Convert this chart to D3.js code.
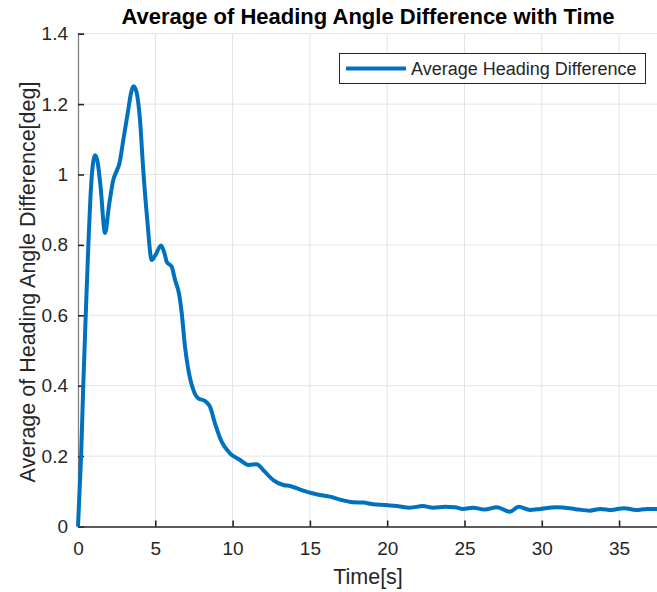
<!DOCTYPE html>
<html>
<head>
<meta charset="utf-8">
<script src="https://cdn.jsdelivr.net/npm/d3@7"></script>
<style>
  html, body { margin: 0; padding: 0; background: #fff; }
  svg { display: block; font-family: "Liberation Sans", Arial, Helvetica, sans-serif; }
</style>
</head>
<body>
<svg id="chart" width="657" height="592"></svg>
<script>
// Time samples [s]
const timeS = [0, 0.1, 0.2, 0.34, 0.5, 0.67, 0.85, 1.0, 1.1, 1.25, 1.45, 1.75, 2.0, 2.28, 2.5, 2.67,
  2.93, 3.2, 3.45, 3.58, 3.75, 4.01, 4.22, 4.48, 4.77, 5.0, 5.37, 5.6, 5.74, 6.06, 6.28, 6.53, 6.71,
  6.92, 7.14, 7.46, 7.78, 8.21, 8.54, 8.86, 9.29, 9.83, 10.48, 11.02, 11.56, 11.99, 12.63, 13.28,
  13.71, 14.57, 15.65, 16.3, 16.9, 17.8, 18.45, 19.1, 19.86, 20.6, 21.47, 22.3, 22.98, 23.74, 24.4,
  24.9, 25.57, 26.3, 27.1, 27.94, 28.5, 29.24, 29.9, 30.97, 31.8, 32.4, 33.1, 33.8, 34.5, 35.3,
  36.1, 36.8, 37.4, 38.0];
// Average heading angle difference [deg]
const headingDiff = [0, 0.1, 0.2, 0.4, 0.6, 0.8, 0.97, 1.04, 1.055, 1.04, 0.97, 0.834, 0.91, 0.984,
  1.01, 1.03, 1.098, 1.17, 1.235, 1.251, 1.24, 1.155, 1.013, 0.871, 0.757, 0.77, 0.798, 0.775, 0.752,
  0.738, 0.70, 0.662, 0.606, 0.511, 0.445, 0.388, 0.364, 0.357, 0.340, 0.293, 0.241, 0.208, 0.189,
  0.175, 0.177, 0.16, 0.132, 0.118, 0.115, 0.102, 0.0895, 0.085, 0.077, 0.069, 0.068, 0.063, 0.061,
  0.058, 0.0535, 0.058, 0.0535, 0.056, 0.0545, 0.05, 0.0535, 0.048, 0.055, 0.042, 0.056, 0.047,
  0.05, 0.0545, 0.052, 0.048, 0.045, 0.05, 0.047, 0.052, 0.047, 0.05, 0.0497, 0.048];

const xTicks = [0, 5, 10, 15, 20, 25, 30, 35];
const yTicks = [0, 0.2, 0.4, 0.6, 0.8, 1, 1.2, 1.4];

const titleText = "Average of Heading Angle Difference with Time";
const xLabel = "Time[s]";
const yLabel = "Average of Heading Angle Difference[deg]";
const seriesName = "Average Heading Difference";

const svg = d3.select("#chart");
const xMax = 37.5;
const plotLeft = 78, plotBottom = 526.5, plotTop = 33.7, plotRight = 78 + 15.46 * xMax;

const x = d3.scaleLinear().domain([0, xMax]).range([plotLeft, plotRight]);
const y = d3.scaleLinear().domain([0, 1.4]).range([plotBottom, plotTop]);

const ink = "#262626";
const fontFam = "Liberation Sans, Arial, sans-serif";

// grid
const grid = svg.append("g");
grid.selectAll(".gx").data(xTicks.filter(d => d > 0)).join("line")
  .attr("x1", d => x(d)).attr("x2", d => x(d))
  .attr("y1", y(0)).attr("y2", y(1.4))
  .attr("stroke", "#e3e3e3").attr("stroke-width", 1);
grid.selectAll(".gy").data(yTicks.filter(d => d > 0)).join("line")
  .attr("x1", x(0)).attr("x2", x(xMax))
  .attr("y1", d => y(d)).attr("y2", d => y(d))
  .attr("stroke", "#e3e3e3").attr("stroke-width", 1);

// axes
const xAxis = d3.axisBottom(x).tickValues(xTicks).tickSize(-6).tickPadding(15)
  .tickFormat(d3.format("d"));
const gx = svg.append("g").attr("transform", `translate(0,${plotBottom})`).call(xAxis);
gx.select(".domain").attr("stroke", ink).attr("stroke-width", 1.3);
gx.selectAll(".tick line").attr("stroke", ink).attr("stroke-width", 1.6);
gx.selectAll(".tick text").attr("fill", ink).attr("font-size", 19).attr("font-family", fontFam);

const yAxis = d3.axisLeft(y).tickValues(yTicks).tickSize(-6).tickPadding(10)
  .tickFormat(d => d3.format("~g")(d));
const gy = svg.append("g").attr("transform", `translate(${plotLeft},0)`).call(yAxis);
gy.select(".domain").attr("stroke", "#808080").attr("stroke-width", 1.3);
gy.selectAll(".tick line").attr("stroke", ink).attr("stroke-width", 1.6);
gy.selectAll(".tick text").attr("fill", ink).attr("font-size", 19).attr("font-family", fontFam);

// clip path for the data line
svg.append("clipPath").attr("id", "plotClip").append("rect")
  .attr("x", plotLeft - 3).attr("y", plotTop - 5)
  .attr("width", plotRight - plotLeft + 6).attr("height", plotBottom - plotTop + 8);

const line = d3.line()
  .x((d, i) => x(timeS[i]))
  .y(d => y(d))
  .curve(d3.curveMonotoneX);

svg.append("path")
  .datum(headingDiff)
  .attr("clip-path", "url(#plotClip)")
  .attr("fill", "none")
  .attr("stroke", "#0072BD")
  .attr("stroke-width", 4)
  .attr("stroke-linejoin", "round")
  .attr("d", line);

// title
svg.append("text")
  .attr("x", 368).attr("y", 24)
  .attr("text-anchor", "middle")
  .attr("font-size", 22).attr("font-weight", "bold").attr("fill", "#000")
  .text(titleText);

// axis labels
svg.append("text")
  .attr("x", 368).attr("y", 584)
  .attr("text-anchor", "middle")
  .attr("font-size", 21.5).attr("fill", ink)
  .text(xLabel);

svg.append("text")
  .attr("transform", "translate(35,282) rotate(-90)")
  .attr("text-anchor", "middle")
  .attr("font-size", 21.5).attr("fill", ink)
  .text(yLabel);

// legend
const lg = svg.append("g");
lg.append("rect")
  .attr("x", 339.5).attr("y", 53.5).attr("width", 306).attr("height", 30)
  .attr("fill", "#fff").attr("stroke", ink).attr("stroke-width", 1);
lg.append("line")
  .attr("x1", 346).attr("x2", 406).attr("y1", 68.5).attr("y2", 68.5)
  .attr("stroke", "#0072BD").attr("stroke-width", 4);
lg.append("text")
  .attr("x", 411).attr("y", 68.5).attr("dy", "0.35em")
  .attr("font-size", 18).attr("fill", ink)
  .text(seriesName);
</script>
</body>
</html>
